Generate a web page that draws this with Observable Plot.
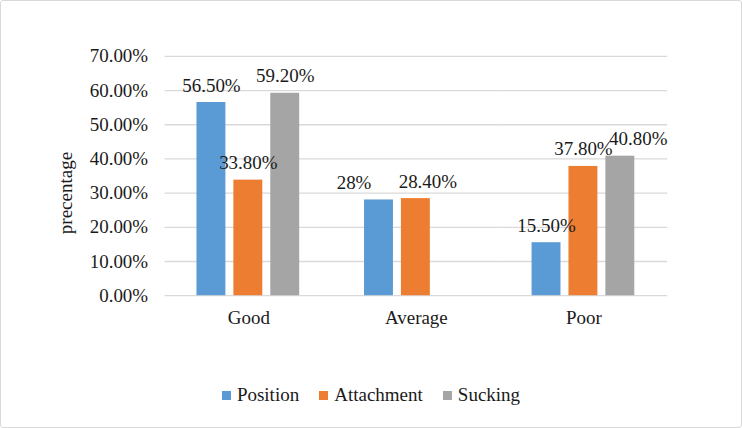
<!DOCTYPE html>
<html>
<head>
<meta charset="utf-8">
<script src="https://cdn.jsdelivr.net/npm/d3@7"></script>
<script src="https://cdn.jsdelivr.net/npm/@observablehq/plot@0.6"></script>
<style>
  html, body { margin: 0; padding: 0; background: #fff; }
  #frame { position: relative; width: 740px; height: 426px; border: 1px solid #d9d9d9; border-radius: 3px; overflow: hidden; }
  #legend { position: absolute; left: 0; right: 0; top: 383px; display: flex; justify-content: center; gap: 20px; font-family: 'Liberation Serif', serif; font-size: 19px; color: #1a1a1a; padding-left: 0px; }
  .item { display: flex; align-items: center; gap: 6px; font-family: 'Liberation Serif', serif; }
  .sw { width: 9px; height: 9px; display: inline-block; }
  #ylabel { position: absolute; left: 65px; top: 192px; transform: translate(-50%, -50%) rotate(-90deg); font-family: 'Liberation Serif', serif; font-size: 19px; color: #1a1a1a; white-space: nowrap; }
</style>
</head>
<body>
<div id="frame"><div id="chart"></div><div id="ylabel"></div><div id="legend"></div></div>
<script>
const categories = ["Good", "Average", "Poor"];
const seriesNames = ["Position", "Attachment", "Sucking"];
const position = [56.5, 28, 15.5];
const attachment = [33.8, 28.4, 37.8];
const sucking = [59.2, null, 40.8];
const positionLabels = ["56.50%", "28%", "15.50%"];
const attachmentLabels = ["33.80%", "28.40%", "37.80%"];
const suckingLabels = ["59.20%", "", "40.80%"];
const yTicks = [0, 10, 20, 30, 40, 50, 60, 70];
const yTitle = "precentage";
const colors = ["#5B9BD5", "#ED7D31", "#A5A5A5"];

// hand-moved data labels (as in the original chart), in pixels
const labelNudge = {"Average|Position": -25, "Average|Attachment": 12, "Poor|Sucking": 18};

const allValues = [position, attachment, sucking];
const allLabels = [positionLabels, attachmentLabels, suckingLabels];
const rows = [];
categories.forEach((c, i) => {
  seriesNames.forEach((s, j) => {
    const v = allValues[j][i];
    if (v != null) rows.push({category: c, series: s, value: v, label: allLabels[j][i]});
  });
});
const nudged = (key) => rows.filter(d => (labelNudge[d.category + "|" + d.series] || 0) === key);
const nudgeValues = [...new Set(rows.map(d => labelNudge[d.category + "|" + d.series] || 0))];

const font = "'Liberation Serif', serif";
const chart = Plot.plot({
  width: 742,
  height: 370,
  marginLeft: 163,
  marginRight: 74,
  marginTop: 55,
  marginBottom: 75,
  style: {fontFamily: font, fontSize: "19px", color: "#1a1a1a", background: "transparent"},
  fx: {domain: categories, padding: 0, label: null},
  x: {domain: seriesNames, paddingInner: 0.216, paddingOuter: 0.878, axis: null},
  y: {domain: [0, 70], label: null},
  color: {domain: seriesNames, range: colors},
  marks: [
    Plot.ruleY(yTicks, {stroke: "#d9d9d9", strokeWidth: 1.3}),
    Plot.axisY({ticks: yTicks, tickSize: 0, tickPadding: 17, tickFormat: d => d.toFixed(2) + "%", fontSize: 19, label: null}),
    Plot.axisFx({anchor: "bottom", tickSize: 0, tickPadding: 15, fontSize: 19, label: null}),
    Plot.barY(rows, {fx: "category", x: "series", y: "value", fill: "series"}),
    ...nudgeValues.map(n => Plot.text(nudged(n), {fx: "category", x: "series", y: "value", text: "label", lineAnchor: "bottom", dy: -11, dx: n, fontSize: 19, fill: "#1a1a1a"}))
  ]
});
document.getElementById("chart").appendChild(chart);
document.getElementById("ylabel").textContent = yTitle;

const legend = document.getElementById("legend");
seriesNames.forEach((s, j) => {
  const item = document.createElement("div");
  item.className = "item";
  const sw = document.createElement("span");
  sw.className = "sw";
  sw.style.background = colors[j];
  const t = document.createElement("span");
  t.textContent = s;
  item.appendChild(sw);
  item.appendChild(t);
  legend.appendChild(item);
});
</script>
</body>
</html>
